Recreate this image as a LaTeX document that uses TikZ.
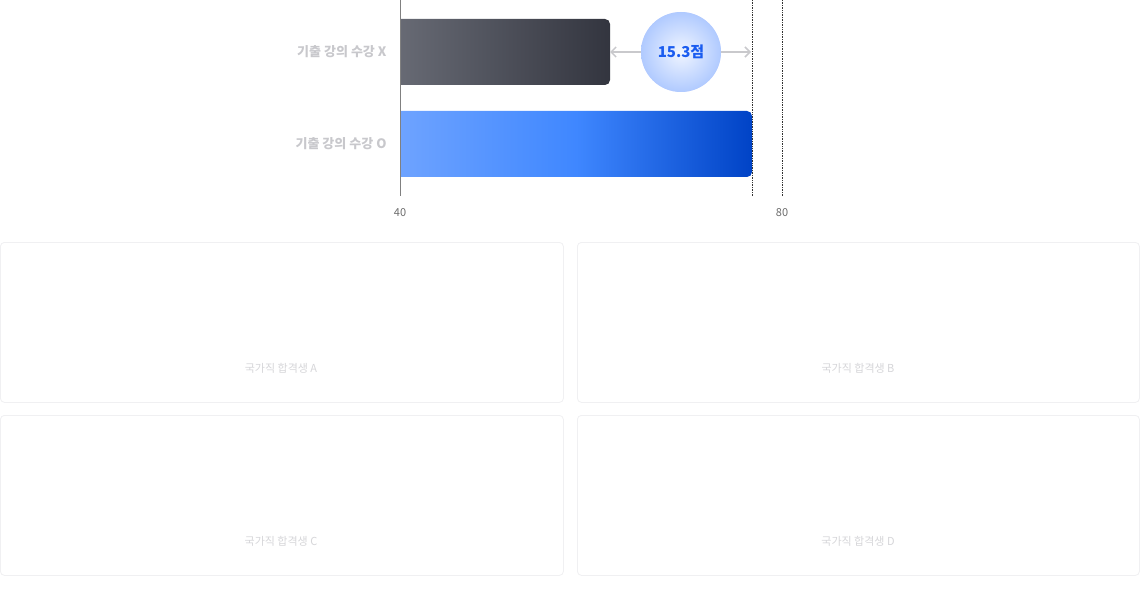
\documentclass[tikz,border=0pt]{standalone}
\usepackage{fontspec}
\setmainfont{Noto Sans CJK KR}
\usetikzlibrary{arrows.meta}
\definecolor{lbl}{HTML}{C8C8CC}
\definecolor{axis}{HTML}{808080}
\definecolor{tick}{HTML}{6B6B6B}
\definecolor{darkA}{HTML}{676A74}
\definecolor{darkB}{HTML}{33353F}
\definecolor{blueA}{HTML}{6EA3FF}
\definecolor{blueM}{HTML}{3F87FF}
\definecolor{blueB}{HTML}{0043C6}
\definecolor{arr}{HTML}{C9C9CC}
\definecolor{cardline}{HTML}{F0F0F2}
\definecolor{cardtxt}{HTML}{D6D6D9}
\definecolor{ctxt}{HTML}{1A5CF0}
\tikzset{x=1pt,y=-1pt,
 barlbl/.style={font=\fontsize{13}{15}\selectfont\bfseries, text=lbl, anchor=east},
 ticklbl/.style={font=\fontsize{11}{13}\selectfont, text=tick},
 card/.style={draw=cardline, line width=0.8pt, rounded corners=4pt, fill=white},
 cardlbl/.style={font=\fontsize{11}{13}\selectfont, text=cardtxt},
 guide/.style={densely dotted, line width=0.7pt, black!80},
 dimarrow/.style={draw=arr, line width=1.5pt, -{Straight Barb[length=5pt,width=10pt]}}}
\begin{document}
\begin{tikzpicture}
\useasboundingbox (0,0) rectangle (1140,604);
% bars
\shade[left color=darkA, right color=darkB] (400,19) [rounded corners=5pt] -- (610,19) -- (610,85) [sharp corners] -- (400,85) -- cycle;
\shade[left color=blueA, right color=blueB, middle color=blueM] (400,111) [rounded corners=5pt] -- (752,111) -- (752,177) [sharp corners] -- (400,177) -- cycle;
\coordinate (xend) at (610,52);
\coordinate (oend) at (752,52);
% axis
\coordinate (a0) at (400,0); \coordinate (a1) at (400,196);
\draw[axis, line width=0.8pt] (a0) -- (a1);
\coordinate (d0) at (752,0); \coordinate (d1) at (752,196);
\coordinate (e0) at (782,0); \coordinate (e1) at (782,196);
\draw[guide] (d0) -- (d1);
\draw[guide] (e0) -- (e1);
\node[ticklbl] (t40) at (400,213) {40};
\node[ticklbl] (t80) at (782,213) {80};
\node[barlbl] (lx) at (390,52) {기출 강의 수강 X};
\node[barlbl] (lo) at (390,144) {기출 강의 수강 O};
% difference
\node[circle, minimum size=80pt, inner sep=0pt, inner color=white!92!blue, outer color=blue!15!cyan!5!white!75!blue!40, draw=none] (c) at (681,52) {};
\shade[inner color={rgb,255:red,240;green,245;blue,255}, outer color={rgb,255:red,176;green,202;blue,255}] (681,52) circle (40);
\node[font=\fontsize{15}{17}\selectfont\bfseries, text=ctxt] (ct) at (681,52) {15.3점};
\draw[dimarrow] (c.west) -- (xend);
\draw[dimarrow] (c.east) -- ([xshift=-1pt]oend);
% cards
\node[card, minimum width=563pt, minimum height=160pt, anchor=north west] (cA) at (0,242) {};
\node[card, minimum width=562pt, minimum height=160pt, anchor=north west] (cB) at (577,242) {};
\node[card, minimum width=563pt, minimum height=160pt, anchor=north west] (cC) at (0,415) {};
\node[card, minimum width=562pt, minimum height=160pt, anchor=north west] (cD) at (577,415) {};
\node[cardlbl] at (281,368) {국가직 합격생 A};
\node[cardlbl] at (858,368) {국가직 합격생 B};
\node[cardlbl] at (281,541) {국가직 합격생 C};
\node[cardlbl] at (858,541) {국가직 합격생 D};
\end{tikzpicture}
\end{document}
